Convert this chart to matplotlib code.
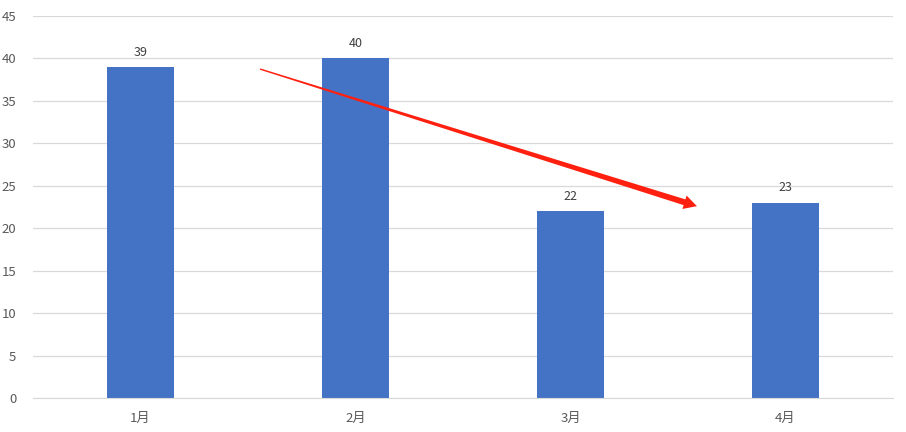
import matplotlib
matplotlib.use("Agg")
import matplotlib.pyplot as plt
from matplotlib.patches import Polygon
import numpy as np

plt.rcParams['font.family'] = ['Noto Sans CJK SC', 'DejaVu Sans']

months = ["1月", "2月", "3月", "4月"]
values = [39, 40, 22, 23]
yticks = list(range(0, 50, 5))

# trend arrow endpoints (data coords)
arrow_start = (0.556, 38.75)
arrow_end = (2.588, 22.6)

fig = plt.figure(figsize=(9.06, 4.32), dpi=100)
ax = fig.add_axes([33 / 906, 34 / 432, 860 / 906, 382 / 432])

x = np.arange(len(months))
bars = ax.bar(x, values, width=0.31, color="#4472C4", zorder=2)
for xi, v in zip(x, values):
    ax.annotate(str(v), (xi, v), xytext=(0, 6), textcoords="offset points",
                ha="center", va="bottom", fontsize=9, color="#404040")

ax.set_xlim(-0.5, len(months) - 0.5)
ax.set_ylim(0, 45)
ax.set_yticks(yticks)
ax.set_xticks(x)
ax.set_xticklabels(months)
ax.grid(axis="y", color="#D9D9D9", linewidth=0.9, zorder=0)
for s in ["top", "right", "left"]:
    ax.spines[s].set_visible(False)
ax.spines["bottom"].set_color("#D9D9D9")
ax.tick_params(axis="both", length=0, labelsize=9.5, colors="#595959")
ax.tick_params(axis="y", pad=12)
ax.tick_params(axis="x", pad=10)

# tapered red arrow built in pixel space
p0 = ax.transData.transform(arrow_start)
p1 = ax.transData.transform(arrow_end)
d = p1 - p0
L = np.hypot(*d)
u = d / L
n = np.array([-u[1], u[0]])
head_len, head_w = 13, 7
w0, w1 = 0.7, 3.0
b = p1 - u * head_len
pts = [p0 + n * w0, b + n * w1, b + n * head_w, p1,
       b - n * head_w, b - n * w1, p0 - n * w0]
ax.add_patch(Polygon(pts, closed=True, transform=None, facecolor="#FF2010",
                     edgecolor="none", zorder=5))

fig.savefig("out.png", dpi=100)
